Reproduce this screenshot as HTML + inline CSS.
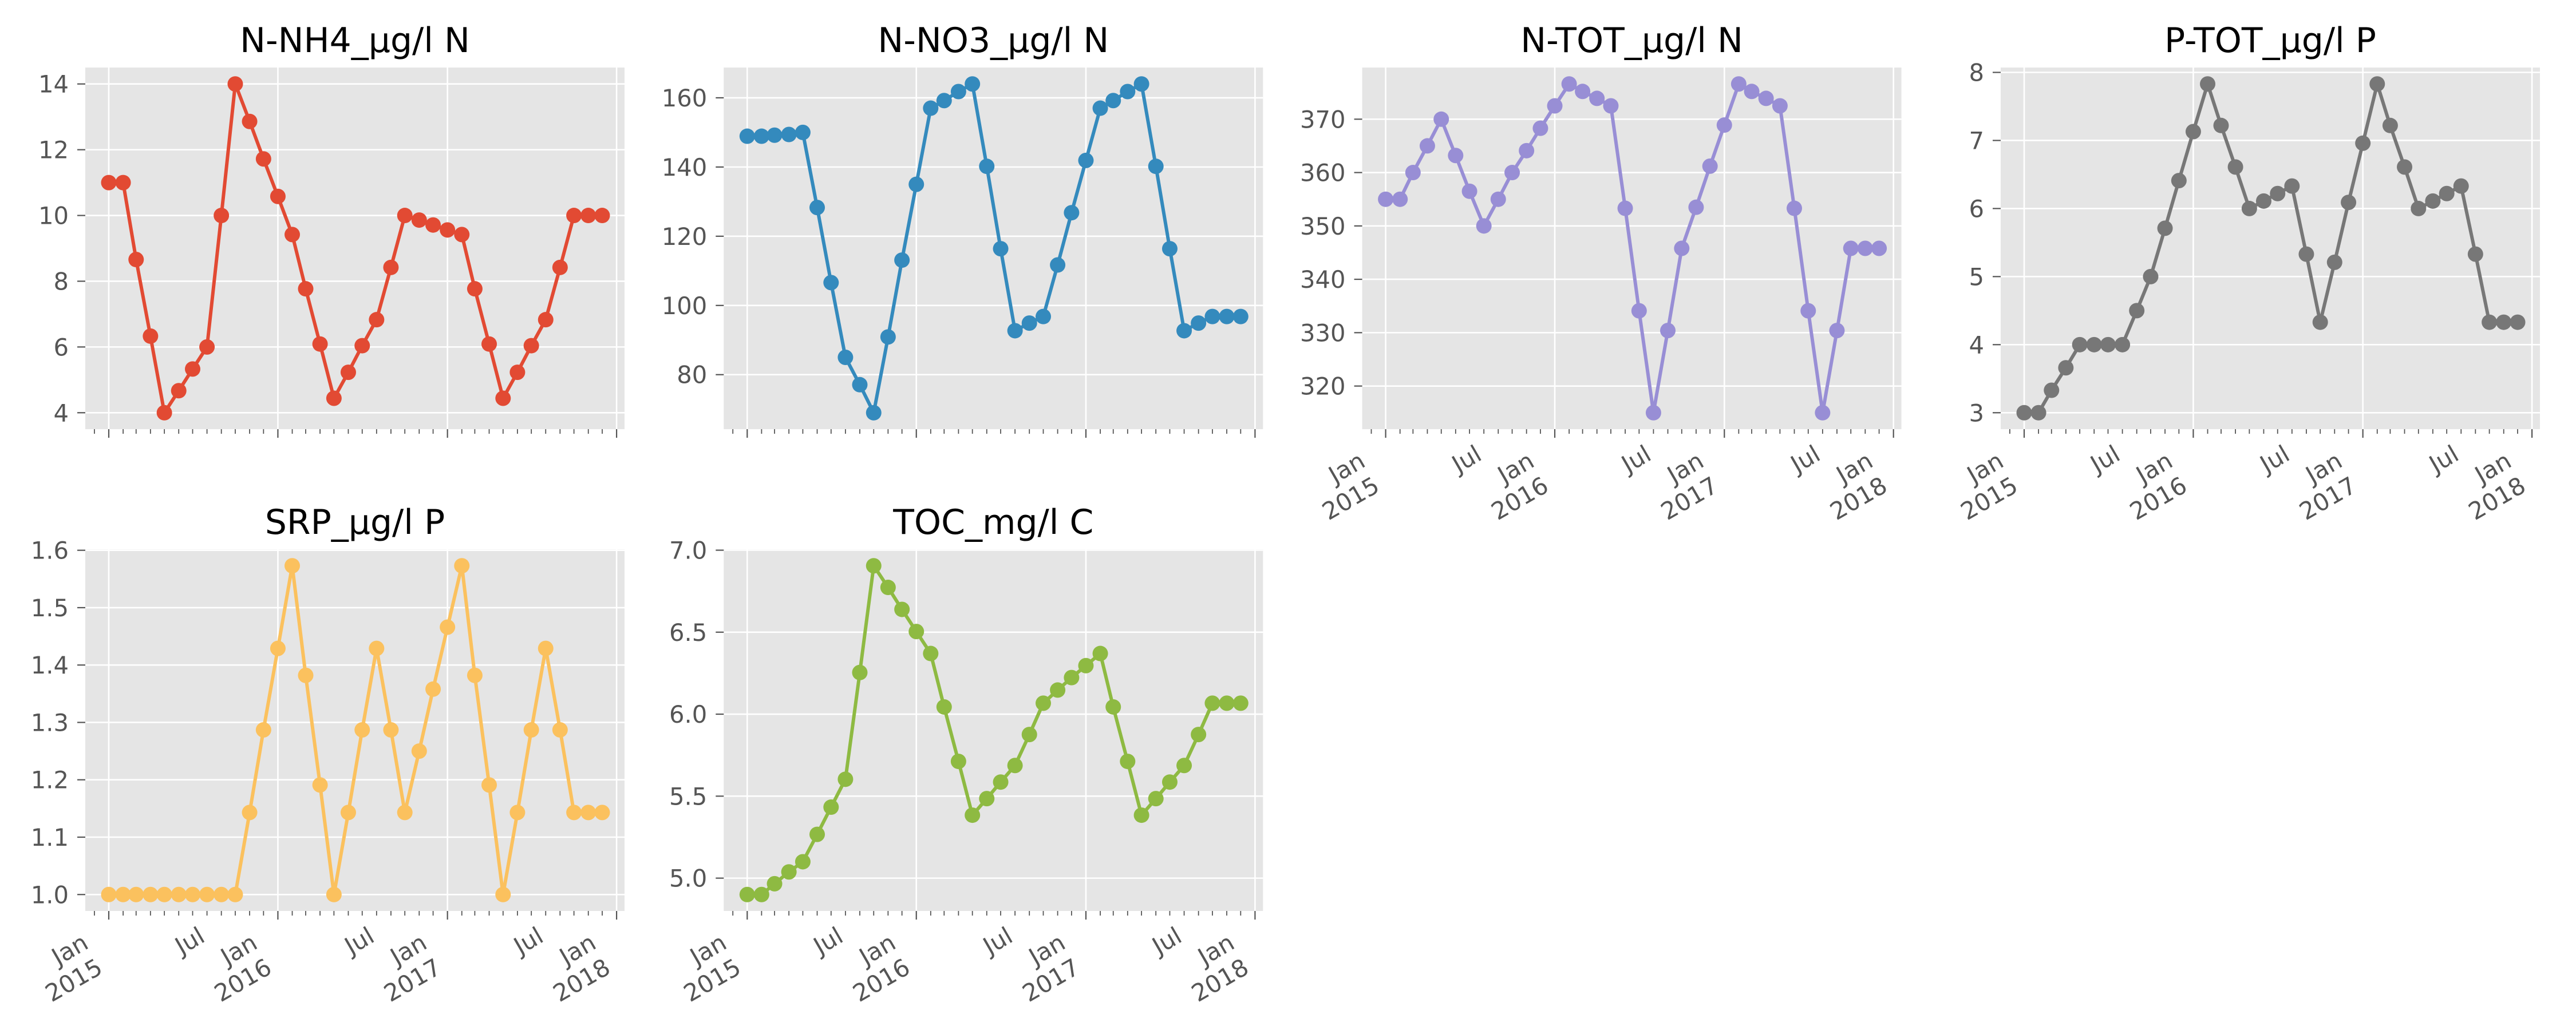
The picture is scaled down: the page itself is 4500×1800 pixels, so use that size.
<!DOCTYPE html>
<html><head><meta charset="utf-8"><title>Water quality monthly series</title>
<style>
html,body{margin:0;padding:0;background:#fff;}
svg{display:block;font-family:"DejaVu Sans","Liberation Sans",sans-serif;}
</style></head>
<body>
<svg id="fig" width="4500" height="1800" viewBox="0 0 4500 1800" xmlns="http://www.w3.org/2000/svg">
<rect x="0" y="0" width="4500" height="1800" fill="#ffffff"/>
</svg>
<script>
// ---- data (36 monthly samples, Jan 2015 .. Dec 2017) ----
const startYear = 2015;
const nMonths = 36;
const nh4Values = [11,11,8.66,6.33,4,4.67,5.33,6,10,14,12.86,11.72,10.58,9.42,7.77,6.09,4.44,5.23,6.04,6.83,8.42,10,9.86,9.71,9.56,9.42,7.77,6.09,4.44,5.23,6.04,6.83,8.42,10,10,10];
const no3Values = [148.9,148.9,149.2,149.4,150,128.3,106.6,85,77.1,69,90.9,113.1,135,157,159.2,161.8,164,140.2,116.4,92.7,94.9,96.8,111.7,126.8,141.9,157,159.2,161.8,164,140.2,116.4,92.7,94.9,96.8,96.8,96.8];
const ntotValues = [355,355,360,365,370,363.2,356.5,350,355,360,364.1,368.3,372.5,376.6,375.2,373.9,372.5,353.3,334.1,315,330.4,345.8,353.5,361.2,368.9,376.6,375.2,373.9,372.5,353.3,334.1,315,330.4,345.8,345.8,345.8];
const ptotValues = [3,3,3.33,3.66,4,4,4,4,4.5,5,5.71,6.41,7.13,7.83,7.22,6.61,6,6.11,6.22,6.33,5.33,4.33,5.21,6.09,6.96,7.83,7.22,6.61,6,6.11,6.22,6.33,5.33,4.33,4.33,4.33];
const srpValues = [1,1,1,1,1,1,1,1,1,1,1.143,1.287,1.429,1.573,1.382,1.191,1,1.143,1.287,1.429,1.287,1.143,1.25,1.358,1.466,1.573,1.382,1.191,1,1.143,1.287,1.429,1.287,1.143,1.143,1.143];
const tocValues = [4.9,4.9,4.966,5.038,5.1,5.267,5.433,5.603,6.254,6.905,6.773,6.639,6.504,6.37,6.044,5.712,5.384,5.485,5.586,5.687,5.876,6.067,6.147,6.223,6.296,6.37,6.044,5.712,5.384,5.485,5.586,5.687,5.876,6.067,6.067,6.067];
const panelTitles = ["N-NH4_µg/l N","N-NO3_µg/l N","N-TOT_µg/l N","P-TOT_µg/l P","SRP_µg/l P","TOC_mg/l C"];
const nh4Ticks = [4,6,8,10,12,14];
const no3Ticks = [80,100,120,140,160];
const ntotTicks = [320,330,340,350,360,370];
const ptotTicks = [3,4,5,6,7,8];
const srpTicks = [1.0,1.1,1.2,1.3,1.4,1.5,1.6];
const tocTicks = [5.0,5.5,6.0,6.5,7.0];
const xMajorLabels = [["Jan","2015"],["Jul"],["Jan","2016"],["Jul"],["Jan","2017"],["Jul"],["Jan","2018"]];

// ---- layout ----
const NS = "http://www.w3.org/2000/svg";
const svg = document.getElementById('fig');
const colLeft = [149, 1264.3, 2379.6, 3495];
const rowTop = [118, 960];
const AW = 942, AH = 632;
const colors = ["#E24A33","#348ABD","#988ED5","#777777","#FBC15E","#8EBA42"];
const series = [nh4Values,no3Values,ntotValues,ptotValues,srpValues,tocValues];
const ticks = [nh4Ticks,no3Ticks,ntotTicks,ptotTicks,srpTicks,tocTicks];
const decimals = [0,0,0,0,1,1];
const slugs = ["n-nh4","n-no3","n-tot","p-tot","srp","toc"];
const pos = [[0,0],[1,0],[2,0],[3,0],[0,1],[1,1]];
const showXLabels = [false,false,true,true,true,true];
const DAY = 86400000;
const t0 = Date.UTC(startYear,0,1);
function dayOf(y,m){return (Date.UTC(y,m,1)-t0)/DAY;}

function mk(tag, attrs, parent){
  const e = document.createElementNS(NS, tag);
  for (const k in attrs) e.setAttribute(k, attrs[k]);
  (parent||svg).appendChild(e);
  return e;
}

for (let p=0;p<6;p++){
  const left = colLeft[pos[p][0]], top = rowTop[pos[p][1]];
  const vals = series[p];
  const xScale = d => left + 41 + d*0.8094;
  let mn=Math.min(...vals), mx=Math.max(...vals), r=(mx-mn)||1;
  const ymin = mn-0.05*r, ymax = mx+0.05*r;
  const yScale = v => top + (ymax - v)/(ymax - ymin)*AH;

  const g = mk('g',{});
  
  
  const bg = mk('rect',{x:left,y:top,width:AW,height:AH,fill:'#E5E5E5'},g);
  
  

  ticks[p].forEach(tv=>{
    const y = yScale(tv);
    if (y < top-1 || y > top+AH+1) return;
    const gl = mk('line',{x1:left,x2:left+AW,y1:y,y2:y,stroke:'#ffffff','stroke-width':2.6},g);
    
    
    const tk = mk('line',{x1:left-14,x2:left,y1:y,y2:y,stroke:'#555555','stroke-width':2.2},g);
    
    
    const tl = mk('text',{x:left-29,y:y+15,'text-anchor':'end','font-size':41.7,fill:'#555555'},g);
    tl.textContent = tv.toFixed(decimals[p]);
    
    
  });

  let li = 0;
  for (let k=-1;k<=nMonths;k++){
    const yy = startYear + Math.floor(k/12), mm = ((k%12)+12)%12;
    const d = dayOf(yy,mm);
    const x = xScale(d);
    if (x < left || x > left+AW) continue;
    const major = (mm===0);
    const tk = mk('line',{x1:x,x2:x,y1:top+AH,y2:top+AH+(major?15:8),stroke:'#555555','stroke-width':major?2.2:1.8},g);
    
    
    if (major){
      const gl = mk('line',{x1:x,x2:x,y1:top,y2:top+AH,stroke:'#ffffff','stroke-width':2.6},g);
      
      
    }
    if ((mm===0 || mm===6) && showXLabels[p]){
      const lab = xMajorLabels[li];
      const two = lab.length===2;
      const tx = two ? x-8 : x+24;
      const ty = top+AH+(two ? 107 : 52);
      const tg = mk('g',{transform:`translate(${tx},${ty}) rotate(-30)`},g);
      const t = mk('text',{x:0,y:0,'text-anchor':'end','font-size':41.7,fill:'#555555'},tg);
      
      
      lab.forEach((s,i)=>{
        const ts = mk('tspan',{x:0,y:-(lab.length-1-i)*50},t);
        ts.textContent = s;
      });
    }
    if (mm===0 || mm===6) li++;
  }

  const pts = vals.map((v,i)=>{
    const d = dayOf(startYear+Math.floor(i/12), i%12);
    return [xScale(d), yScale(v)];
  });
  const line = mk('polyline',{points:pts.map(q=>q[0].toFixed(1)+','+q[1].toFixed(1)).join(' '),fill:'none',stroke:colors[p],'stroke-width':6,'stroke-linejoin':'round'},g);
  
  
  pts.forEach((q,i)=>{
    const c = mk('circle',{cx:q[0],cy:q[1],r:13.5,fill:colors[p]},g);
    
    
  });

  const tt = mk('text',{x:left+AW/2,y:top-27,'text-anchor':'middle','font-size':60,fill:'#000000'},g);
  tt.textContent = panelTitles[p];
  
  
}
</script>
</body></html>
